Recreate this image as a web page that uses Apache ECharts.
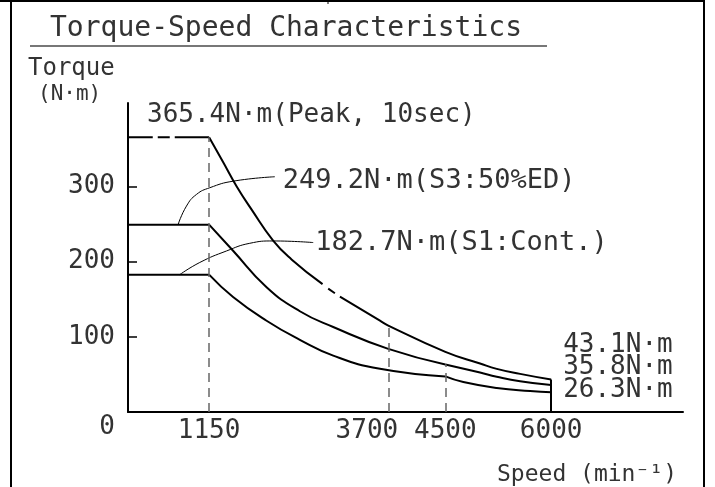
<!DOCTYPE html>
<html>
<head>
<meta charset="utf-8">
<script src="https://cdn.jsdelivr.net/npm/echarts@6/dist/echarts.min.js"></script>
<style>
    html, body { margin: 0; padding: 0; background: #fff; }
    #chart { width: 715px; height: 487px; }
</style>
</head>
<body>
<div id="chart"></div>
<script>
// 数据
const speedTicks = [1150, 3700, 4500, 6000];
const torqueTicks = [0, 100, 200, 300];
const curveLabels = ['365.4N·m(Peak, 10sec)', '249.2N·m(S3:50%ED)', '182.7N·m(S1:Cont.)'];
const endLabels = ['43.1N·m', '35.8N·m', '26.3N·m'];

// Peak 曲线（带断开的虚线段）
const peakFlat = [[0, 365.4], [351, 365.4], [386, '-'], [422, 365.4], [592, 365.4], [627, '-'], [663, 365.4], [1150, 365.4]];
const peakFall = [[1150, 365.4], [1348, 332.5], [1539, 300.4], [1751, 269.5], [2058, 228], [2319, 203], [2759, 170.1], [2800, '-'],
    [2839, 164], [2934, 158], [2970, '-'],
    [3005, 153.5], [3573, 121.4], [3691, 115], [4500, 80], [4992, 64.5], [5229, 57.4], [5560, 50.7], [6000, 43.1]];

// S3 曲线
const s3Flat = [[0, 249.2], [1150, 249.2]];
const s3FallA = [[1150, 249.2], [1490, 214.5], [1965, 166], [2437, 134], [2910, 113], [3691, 84], [4500, 63.3]];
const s3FallB = [[4500, 63.3], [4992, 52.5], [5229, 47], [5560, 41], [6000, 35.8]];

// S1 曲线
const s1Flat = [[0, 182.7], [1150, 182.7]];
const s1FallA = [[1150, 182.7], [1490, 153], [1965, 121.4], [2437, 96], [2910, 75], [3573, 57.4], [4500, 47.3]];
const s1FallB = [[4500, 47.3], [4755, 39.8], [5229, 31.8], [5702, 27.8], [6000, 26.3]];

// 引出线
const s3Leader = [[710, 249.2], [829, 273.9], [971, 289.4], [1160, 298.3], [1490, 307], [2082, 312.9]];
const s1Leader = [[734, 182.7], [1018, 198.9], [1397, 214.2], [1727, 224.4], [2058, 227.5], [2626, 225.4]];

// 虚线（速度, 上端转矩）
const guideLines = [[1150, 365.4], [3700, 115], [4500, 63.3]];

const FONT = '"DejaVu Sans Mono", monospace';
const TEXT = '#333';

const chart = echarts.init(document.getElementById('chart'));

const curve = (data, extra) => Object.assign({
    type: 'line',
    data,
    smooth: 0.5,
    symbol: 'none',
    silent: true,
    animation: false,
    lineStyle: { color: '#000', width: 2 },
}, extra);

const endLabel = (text, dy) => ({
    show: true,
    formatter: () => text,
    distance: 12,
    offset: [0, dy],
    color: TEXT,
    fontSize: 26,
    fontFamily: FONT,
});

const option = {
    animation: false,
    title: [
        {
            text: 'Torque-Speed Characteristics',
            left: 45,
            top: 10,
            textStyle: { color: TEXT, fontSize: 28, fontWeight: 'normal', fontFamily: FONT },
        },
        {
            text: 'Torque',
            left: 23,
            top: 52,
            textStyle: { color: TEXT, fontSize: 24, fontWeight: 'normal', fontFamily: FONT },
        },
        {
            text: '(N·m)',
            left: 33,
            top: 79,
            textStyle: { color: TEXT, fontSize: 21, fontWeight: 'normal', fontFamily: FONT },
        },
    ],
    grid: {
        left: 128,
        right: 32,
        top: 103,
        bottom: 74,
    },
    xAxis: {
        type: 'value',
        min: 0,
        max: 7870,
        axisLine: { show: true, lineStyle: { color: '#000', width: 2 } },
        axisTick: { show: false },
        splitLine: { show: false },
        axisLabel: {
            customValues: speedTicks,
            margin: 6,
            color: TEXT,
            fontSize: 26,
            fontFamily: FONT,
            formatter: (v) => (v === 3700 ? '{l|' + v + '}' : String(v)),
            rich: {
                l: { padding: [0, 44, 0, 0], fontSize: 26, fontFamily: FONT, color: TEXT },
            },
        },
        name: 'Speed (min⁻¹)',
        nameLocation: 'end',
        nameGap: -6,
        nameTextStyle: {
            align: 'right',
            verticalAlign: 'top',
            padding: [52, 0, 0, 0],
            color: TEXT,
            fontSize: 23,
            fontFamily: FONT,
        },
    },
    yAxis: {
        type: 'value',
        min: 0,
        max: 411,
        axisLine: { show: true, lineStyle: { color: '#000', width: 2 } },
        axisTick: {
            show: true,
            inside: true,
            length: 9,
            customValues: [100, 200, 300],
            lineStyle: { color: '#000', width: 1.5 },
        },
        splitLine: { show: false },
        axisLabel: {
            customValues: torqueTicks,
            margin: 13,
            color: TEXT,
            fontSize: 26,
            fontFamily: FONT,
            formatter: (v) => (v === 0 ? '{z|0}' : String(v)),
            rich: {
                z: { padding: [30, 0, 0, 0], fontSize: 26, fontFamily: FONT, color: TEXT },
            },
        },
    },
    series: [
        curve(peakFlat, {
            smooth: false,
            markPoint: {
                symbol: 'circle',
                symbolSize: 0,
                silent: true,
                itemStyle: { color: 'transparent' },
                label: {
                    show: true,
                    position: 'right',
                    distance: 5,
                    offset: [14, -22],
                    formatter: () => curveLabels[0],
                    color: TEXT,
                    fontSize: 26,
                    fontFamily: FONT,
                },
                data: [{ coord: [0, 365.4] }],
            },
        }),
        curve(peakFall, { endLabel: endLabel(endLabels[0], -34) }),
        curve(s3Flat, { smooth: false }),
        curve(s3FallA),
        curve(s3FallB, { endLabel: endLabel(endLabels[1], -18) }),
        curve(s1Flat, {
            smooth: false,
            markLine: {
                silent: true,
                symbol: ['none', 'none'],
                label: { show: false },
                lineStyle: { color: '#666', width: 1.5, type: [9, 6] },
                data: guideLines.map(([x, y]) => [{ coord: [x, 0] }, { coord: [x, y] }]).concat([
                    [{ coord: [6000, 0], lineStyle: { color: '#000', width: 2, type: 'solid' } },
                        { coord: [6000, peakFall[peakFall.length - 1][1]] }],
                ]),
            },
        }),
        curve(s1FallA),
        curve(s1FallB, { endLabel: endLabel(endLabels[2], -2) }),
        curve(s3Leader, {
            lineStyle: { color: '#000', width: 1 },
            endLabel: Object.assign(endLabel(curveLabels[1], 4), { distance: 8, fontSize: 27 }),
        }),
        curve(s1Leader, {
            lineStyle: { color: '#000', width: 1 },
            endLabel: Object.assign(endLabel(curveLabels[2], 0), { distance: 2, fontSize: 27 }),
        }),
    ],
    graphic: [
        // 图框
        { type: 'line', silent: true, shape: { x1: 11, y1: 0, x2: 11, y2: 487 }, style: { stroke: '#000', lineWidth: 2 } },
        { type: 'line', silent: true, shape: { x1: 704, y1: 0, x2: 704, y2: 487 }, style: { stroke: '#000', lineWidth: 2 } },
        { type: 'line', silent: true, shape: { x1: 0, y1: 1, x2: 704, y2: 1 }, style: { stroke: '#000', lineWidth: 2 } },
        { type: 'line', silent: true, shape: { x1: 328, y1: 0, x2: 328, y2: 4 }, style: { stroke: '#000', lineWidth: 1 } },
        // 标题下划线
        { type: 'line', silent: true, shape: { x1: 30, y1: 46, x2: 547, y2: 46 }, style: { stroke: '#777', lineWidth: 2 } },
    ],
};

chart.setOption(option);

window.addEventListener('resize', () => {
    // eslint-disable-next-line no-unused-expressions
    chart && chart.resize();
});
</script>
</body>
</html>
